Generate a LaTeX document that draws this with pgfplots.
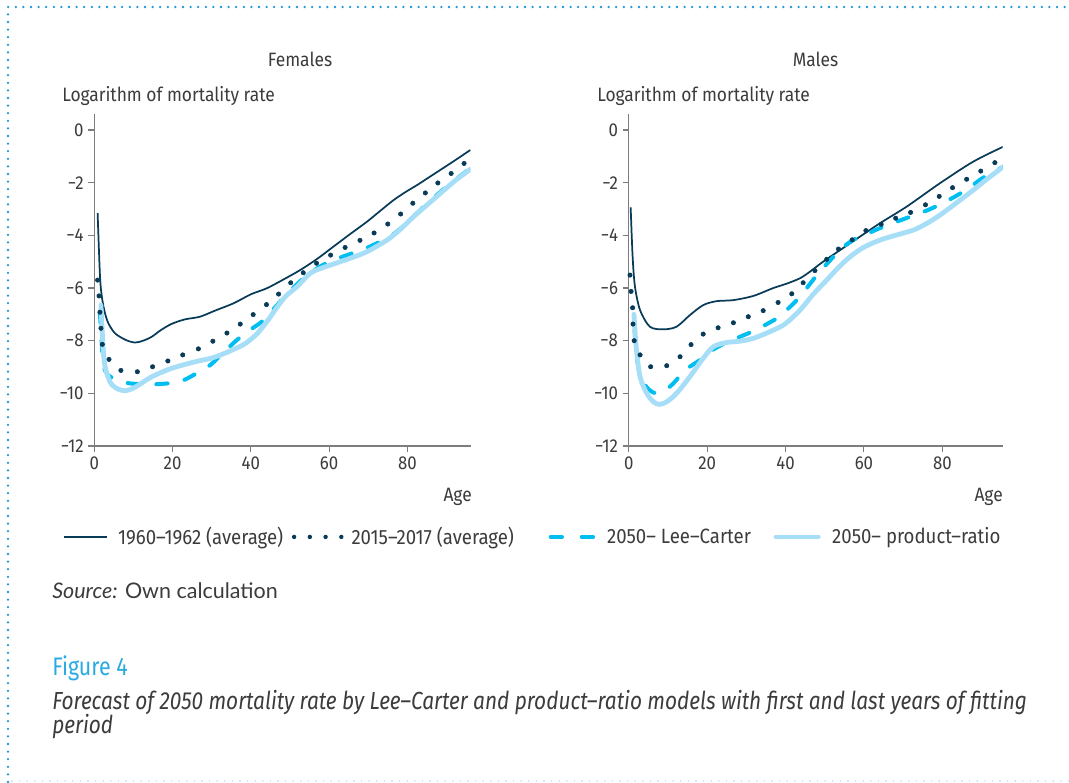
\documentclass[border=0pt]{standalone}
\usepackage{fontspec}
\setmainfont{Fira Sans}[FakeStretch=0.9]
\newfontfamily\capfont{Fira Sans}[FakeStretch=0.845]
\newfontfamily\srcfont{Lato}
\usepackage{pgfplots}
\usepackage{pgfplotstable}
\pgfplotsset{compat=1.18}

\definecolor{navy}{RGB}{8,59,88}
\definecolor{lcblue}{RGB}{0,191,240}
\definecolor{prblue}{RGB}{166,222,247}
\definecolor{bordercol}{RGB}{30,150,210}
\definecolor{figblue}{RGB}{41,170,226}
\definecolor{txt}{RGB}{60,60,60}
\definecolor{axisgray}{RGB}{125,125,125}

% Females
\pgfplotstableread{
age lm
0.85 -3.16
1.46 -5.57
2.0 -6.4
2.74 -6.96
3.6 -7.34
5.3 -7.72
8.0 -7.97
10.4 -8.07
12.5 -8.0
14.7 -7.85
17.0 -7.6
19.8 -7.36
23.2 -7.19
27.0 -7.09
31.0 -6.85
35.6 -6.58
40.0 -6.24
44.1 -6.01
48.3 -5.68
52.6 -5.32
56.9 -4.9
61.1 -4.43
65.4 -3.95
69.7 -3.48
73.0 -3.08
76.5 -2.66
79.5 -2.36
82.5 -2.09
85.5 -1.8
88.4 -1.52
92.0 -1.17
96.1 -0.76
}\femA
\pgfplotstableread{
age lm
0.85 -5.7
1.2 -6.3
1.45 -6.92
1.7 -7.53
2.05 -8.14
3.76 -8.71
6.8 -9.13
11.0 -9.18
14.9 -8.99
18.8 -8.77
22.6 -8.54
26.6 -8.31
30.3 -8.02
33.9 -7.71
37.3 -7.37
40.6 -7.01
44.0 -6.63
47.1 -6.23
50.2 -5.8
53.4 -5.42
56.8 -5.06
60.4 -4.75
64.1 -4.46
67.9 -4.19
71.5 -3.91
75.0 -3.57
78.3 -3.19
81.4 -2.78
84.6 -2.39
87.8 -2.01
91.2 -1.65
94.5 -1.27
}\femB
\pgfplotstableread{
age lm
1.4 -6.9
1.8 -7.8
2.3 -8.9
3.5 -9.3
6.0 -9.5
9.0 -9.62
14.7 -9.66
20.2 -9.6
23.0 -9.49
26.0 -9.25
29.6 -8.93
33.0 -8.45
36.4 -7.98
39.5 -7.62
42.8 -7.28
45.5 -6.85
48.3 -6.39
51.0 -5.97
53.9 -5.57
57.5 -5.2
61.1 -4.94
65.0 -4.73
68.8 -4.53
72.5 -4.28
76.1 -3.99
79.0 -3.65
82.0 -3.23
85.0 -2.8
88.0 -2.41
92.0 -1.92
96.1 -1.46
}\femC
\pgfplotstableread{
age lm
1.7 -6.65
2.05 -7.72
2.6 -8.86
4.0 -9.56
5.7 -9.81
8.0 -9.9
10.4 -9.77
14.7 -9.37
19.8 -9.05
25.8 -8.8
30.0 -8.66
33.0 -8.5
35.6 -8.33
38.5 -8.12
41.5 -7.75
44.1 -7.28
46.6 -6.75
49.0 -6.3
51.8 -5.95
55.2 -5.44
58.0 -5.25
61.1 -5.09
65.4 -4.87
69.7 -4.62
74.8 -4.18
78.0 -3.8
81.6 -3.29
85.0 -2.85
88.4 -2.41
92.0 -1.95
96.1 -1.49
}\femD

% Males
\pgfplotstableread{
age lm
0.5 -2.94
1.0 -4.81
1.6 -5.95
2.9 -6.84
5.4 -7.47
8.8 -7.57
12.2 -7.47
15.6 -7.03
19.0 -6.65
22.4 -6.5
26.7 -6.46
31.8 -6.3
36.9 -6.0
40.0 -5.85
43.7 -5.63
46.5 -5.35
49.6 -5.0
56.5 -4.3
64.1 -3.54
70.9 -2.91
79.4 -2.02
87.9 -1.2
95.6 -0.63
}\malA
\pgfplotstableread{
age lm
0.33 -5.51
0.6 -6.13
1.0 -6.75
1.1 -7.37
1.4 -8.0
2.9 -8.54
5.6 -8.99
9.7 -8.95
13.1 -8.61
15.9 -8.15
19.0 -7.75
22.8 -7.51
26.7 -7.32
30.5 -7.09
34.3 -6.86
38.1 -6.55
41.6 -6.22
44.5 -5.8
47.5 -5.34
50.5 -4.91
53.5 -4.52
57.0 -4.17
60.5 -3.82
64.4 -3.58
68.1 -3.35
71.9 -3.13
75.7 -2.84
79.2 -2.52
82.6 -2.19
86.2 -1.87
89.8 -1.56
93.4 -1.24
}\malB
\pgfplotstableread{
age lm
1.5 -7.6
2.0 -8.6
3.0 -9.3
4.5 -9.75
6.5 -9.98
8.8 -9.94
11.4 -9.62
14.4 -9.12
18.2 -8.73
20.7 -8.42
23.7 -8.16
28.4 -7.85
31.4 -7.66
35.6 -7.34
38.6 -7.06
43.3 -6.39
48.4 -5.44
53.9 -4.56
57.0 -4.2
60.7 -3.95
64.5 -3.7
68.4 -3.48
72.0 -3.28
76.0 -3.06
79.5 -2.82
83.2 -2.53
87.0 -2.18
90.5 -1.8
95.6 -1.39
}\malC
\pgfplotstableread{
age lm
1.35 -7.0
1.9 -8.23
2.9 -9.37
4.6 -10.0
6.3 -10.32
7.8 -10.42
9.7 -10.32
12.2 -10.0
15.6 -9.37
19.0 -8.67
21.6 -8.23
25.0 -8.07
28.4 -8.02
32.0 -7.9
36.9 -7.6
40.0 -7.35
43.7 -6.84
47.0 -6.25
50.5 -5.7
53.5 -5.22
56.5 -4.81
60.0 -4.45
64.1 -4.18
68.0 -4.0
72.6 -3.8
76.0 -3.55
79.4 -3.23
83.5 -2.78
87.9 -2.28
91.5 -1.85
95.6 -1.39
}\malD

\pgfplotsset{
  mortality/.style={
    scale only axis,
    anchor=south west,
    height=248.85pt,
    xmin=0, ymin=-12, ymax=0.6,
    axis x line*=bottom, axis y line*=left,
    axis line style={draw=axisgray, line width=0.8pt},
    tick style={draw=axisgray, line width=0.8pt},
    tick align=outside, major tick length=4.5pt,
    xtick={0,20,40,60,80}, xticklabels={0,20,40,60,80},
    ytick={-12,-10,-8,-6,-4,-2,0},
    yticklabels={−12,−10,−8,−6,−4,−2,0},
    ticklabel style={font=\fontsize{14}{16}\selectfont, text=txt},
  },
  oldline/.style={draw=navy, line width=1.3pt, smooth, no markers},
  recent/.style={only marks, mark=*, mark size=1.65pt, color=navy,
    mark options={draw=navy, fill=navy}},
  leecarter/.style={draw=lcblue, line width=3pt, smooth, no markers,
    line cap=round, dash pattern=on 8.5pt off 13pt},
  prodratio/.style={draw=prblue, line width=3.6pt, smooth, no markers,
    line cap=round},
}

\begin{document}
\begin{tikzpicture}
\begin{scope}[x=0.75pt, y=-0.75pt]
  \fill[white] (0,0) rectangle (1069,782);
  \path[use as bounding box] (0,0) rectangle (1069,782);
  \draw[bordercol, line width=1.9pt, line cap=round, dash pattern=on 0pt off 5.7pt]
    (8,782) -- (8,7) -- (1069,7);
  \draw[prblue, line width=1.2pt, line cap=round, dash pattern=on 0pt off 5.7pt]
    (12,781) -- (1069,781);
  \begin{scope}[every node/.style={inner sep=0pt, text=txt, font=\fontsize{14.5}{17}\selectfont}]
    \node[anchor=base] at (300,66.7) {Females};
    \node[anchor=base] at (815.5,66.7) {Males};
    \node[anchor=base west] at (62,101) {Logarithm of mortality rate};
    \node[anchor=base west] at (597,101) {Logarithm of mortality rate};
    \node[anchor=base east] at (472,501.5) {Age};
    \node[anchor=base east] at (1003,501.5) {Age};
    \node[anchor=base west, font=\srcfont\fontsize{16.1}{18}\selectfont] at (52,598)
      {\textit{Source:} Own calculation};
    \node[anchor=base west, text=figblue, font=\capfont\fontsize{19}{22}\selectfont] at (52,675)
      {Figure 4};
    \node[anchor=base west, font=\capfont\itshape\fontsize{18.5}{20}\selectfont] at (52,709)
      {Forecast of 2050 mortality rate by Lee–Carter and product–ratio models with first and last years of fitting};
    \node[anchor=base west, font=\capfont\itshape\fontsize{18.5}{20}\selectfont] at (52,733.3)
      {period};
  \end{scope}
\end{scope}

% Females
\begin{axis}[mortality,
  at={(70.725pt,-334.5pt)},
  width=282.3pt, xmax=96.2,
  legend columns=4,
  legend cell align=left,
  legend style={at={(-0.0832,-0.274)}, anchor=west, draw=none, fill=none,
    inner sep=0pt, nodes={inner sep=0pt}, text=txt,
    font=\fontsize{15.5}{18}\selectfont,
    /tikz/column 1/.style={column sep=7.5pt},
    /tikz/column 2/.style={column sep=6.5pt},
    /tikz/column 3/.style={column sep=6pt},
    /tikz/column 4/.style={column sep=26pt},
    /tikz/column 5/.style={column sep=9pt},
    /tikz/column 6/.style={column sep=17pt},
    /tikz/column 7/.style={column sep=8.6pt}},
]
\addplot[oldline,
  legend image code/.code={\draw[navy, line width=1.3pt] (0pt,0pt) -- (32.3pt,0pt);}]
  table[x=age, y=lm] {\femA};
\addlegendentry{1960–1962 (average)}
\addplot[recent,
  legend image code/.code={\draw[navy, line width=3.3pt, line cap=round,
    dash pattern=on 0pt off 11.8pt] (1.5pt,0pt) -- (36.9pt,0pt);}]
  table[x=age, y=lm] {\femB};
\addlegendentry{2015–2017 (average)}
\addplot[leecarter,
  legend image code/.code={\draw[lcblue, line width=3pt, line cap=round]
    (1.5pt,0pt) -- (10pt,0pt) (24.8pt,0pt) -- (33.3pt,0pt);}]
  table[x=age, y=lm] {\femC};
\addlegendentry{2050– Lee–Carter}
\addplot[prodratio,
  legend image code/.code={\draw[prblue, line width=3.6pt, line cap=round]
    (1.8pt,0pt) -- (33.5pt,0pt);}]
  table[x=age, y=lm] {\femD};
\addlegendentry{2050– product–ratio}
\end{axis}

% Males
\begin{axis}[mortality,
  at={(471.525pt,-334.5pt)},
  width=280.5pt, xmax=95.4,
]
\addplot[oldline] table[x=age, y=lm] {\malA};
\addplot[recent] table[x=age, y=lm] {\malB};
\addplot[leecarter] table[x=age, y=lm] {\malC};
\addplot[prodratio] table[x=age, y=lm] {\malD};
\end{axis}
\end{tikzpicture}
\end{document}
